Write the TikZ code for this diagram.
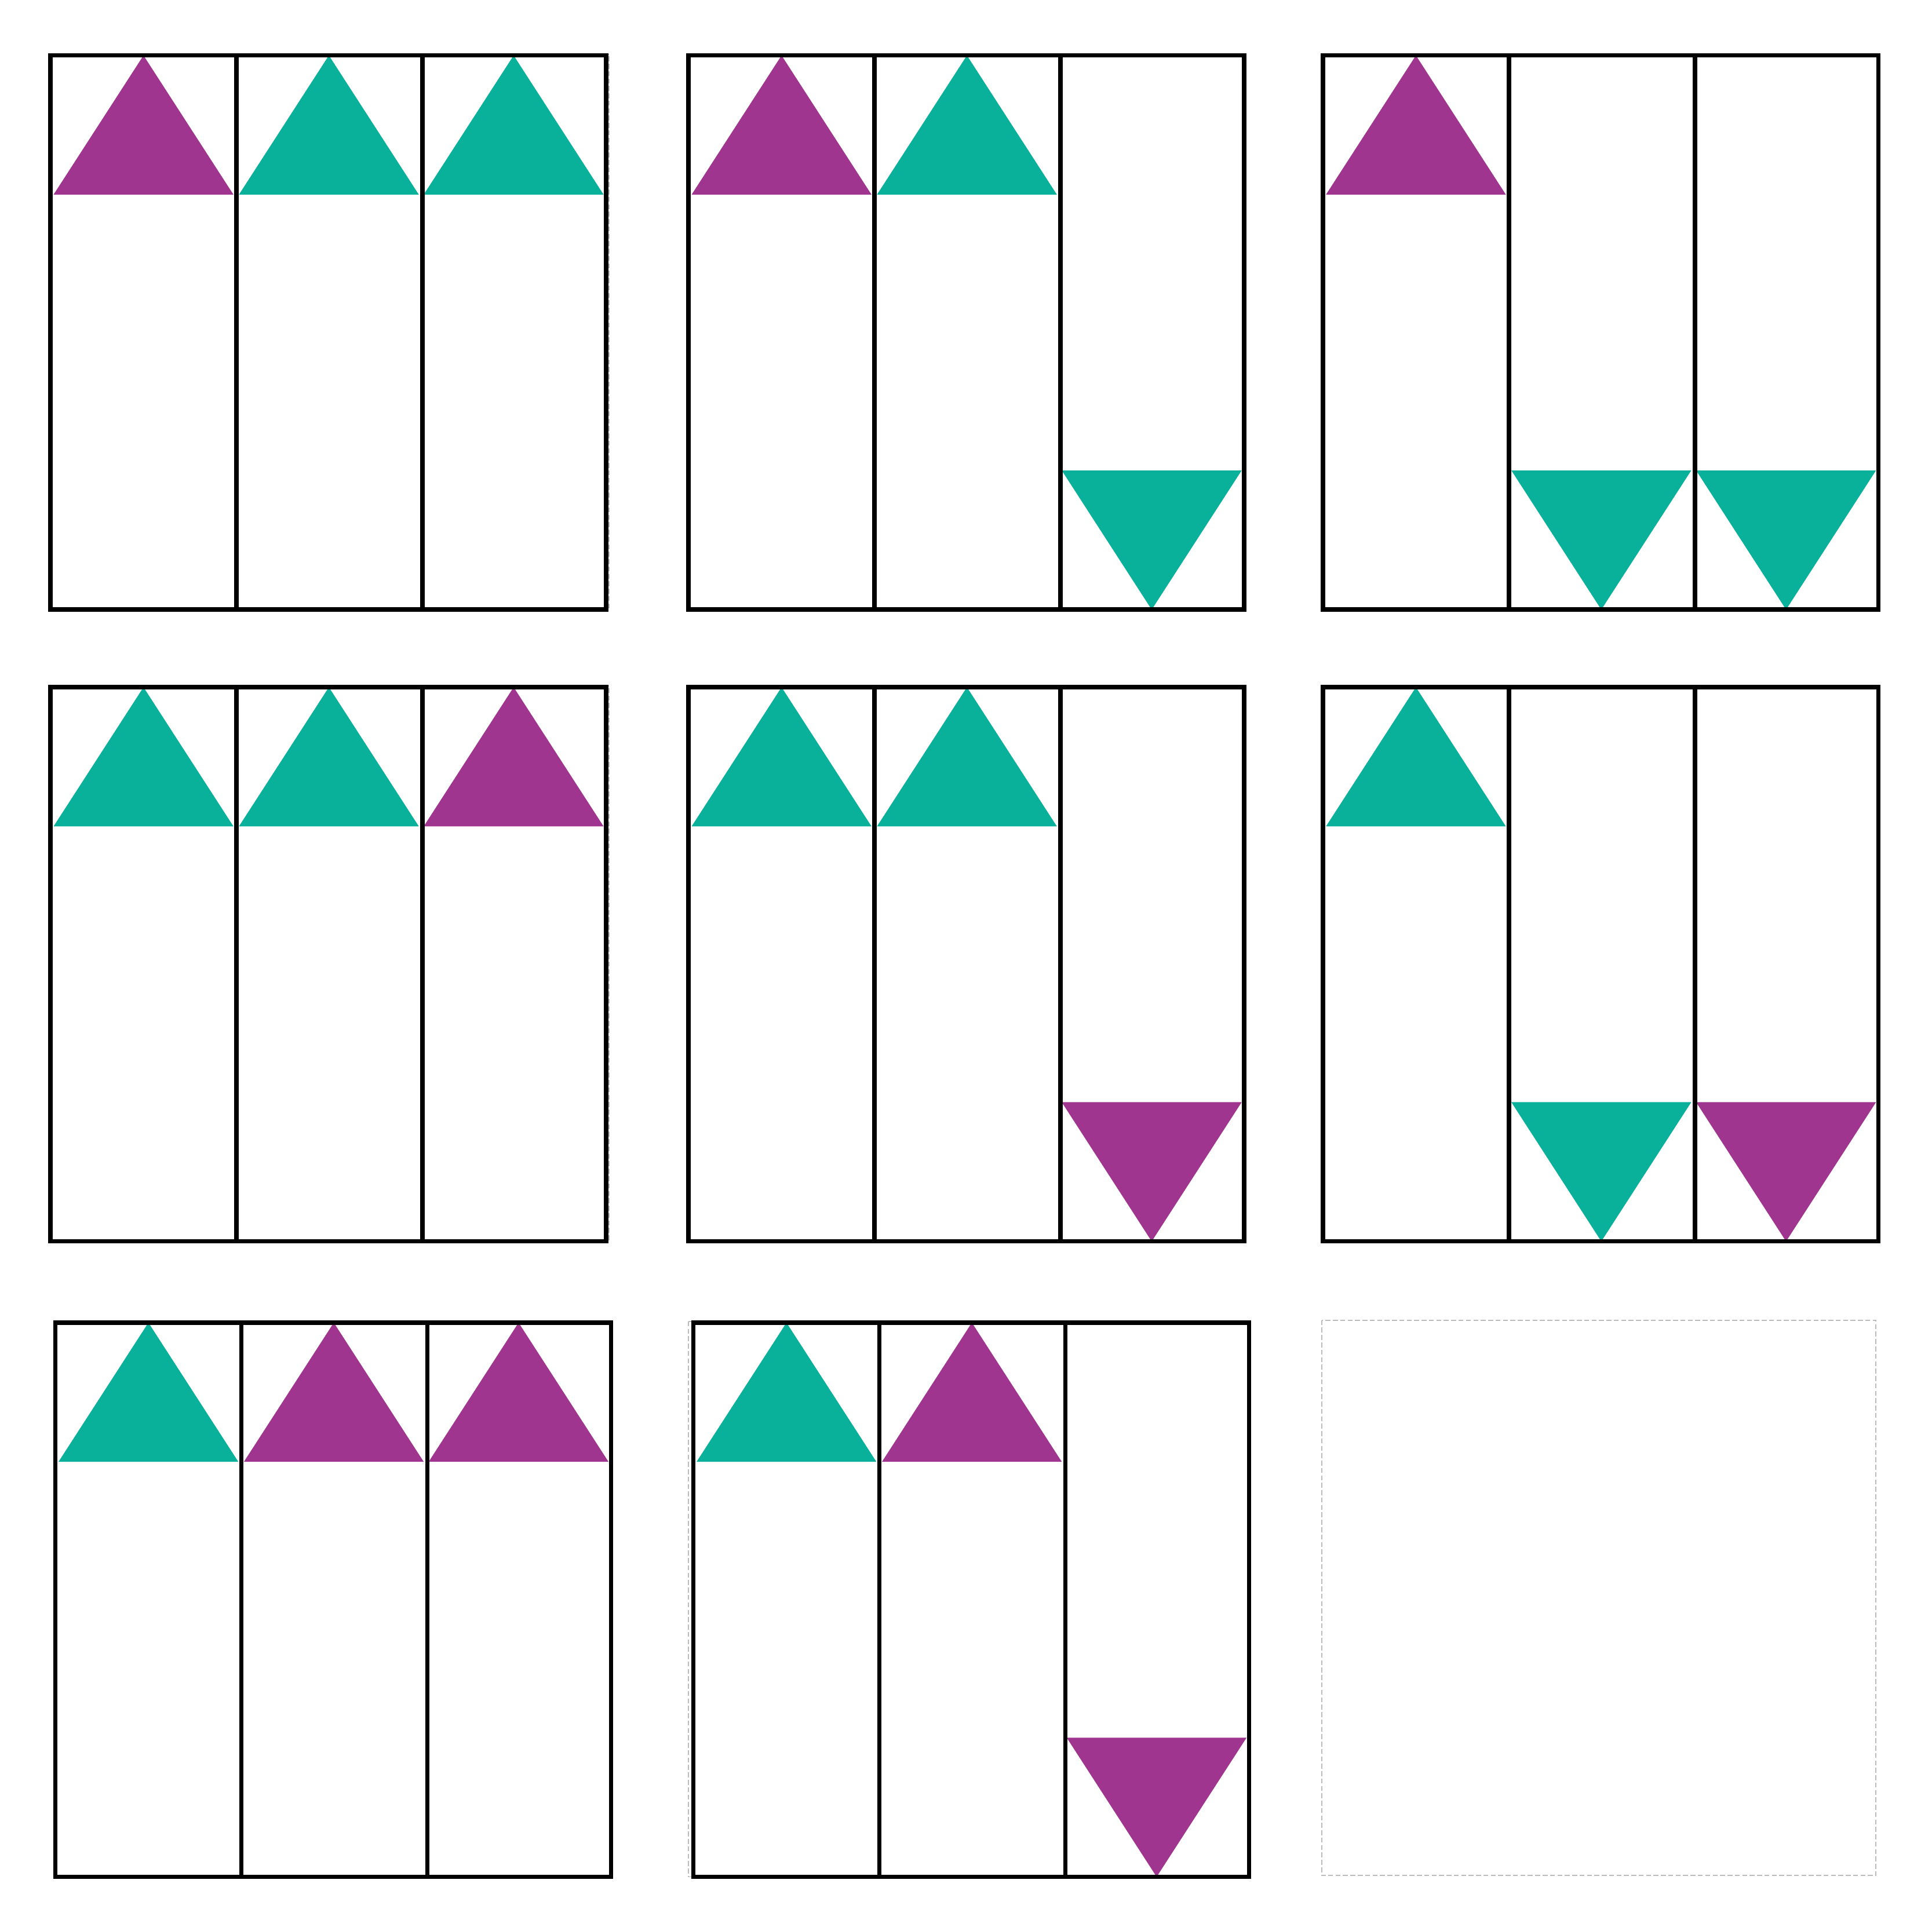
\documentclass[tikz,border=0pt]{standalone}
\usepackage{tikz}
\usepackage{xcolor}
\definecolor{tripurple}{HTML}{A03590}
\definecolor{trigreen}{HTML}{09B09A}
\definecolor{framegray}{HTML}{BBBBBB}

\begin{document}
\begin{tikzpicture}[x=0.01cm,y=-0.01cm,
  panel/.style={line width=1pt,black},
  axframe/.style={framegray,line width=0.25pt,dash pattern=on 0.04cm off 0.02cm},
  tri up/.pic={\fill[pic actions] (-73,113) -- (73,113) -- (0,0) -- cycle;},
  tri down/.pic={\fill[pic actions] (-73,337) -- (73,337) -- (0,450) -- cycle;}]
  \useasboundingbox (0,0) rectangle (1568,1568);
  % faint axes frames
  \draw[axframe] (40,44) rectangle (494.5,495);
  \draw[axframe] (40,557) rectangle (494.5,1008);
  \draw[axframe] (559,1073) rectangle (1013,1524);
  \draw[axframe] (1073,1072) rectangle (1523,1523);
  % panels: corner, then colour/direction of the three columns
  \foreach \px/\py/\ca/\da/\cb/\db/\cc/\dc in {
      41/45/tripurple/up/trigreen/up/trigreen/up,
      559/45/tripurple/up/trigreen/up/trigreen/down,
      1074/45/tripurple/up/trigreen/down/trigreen/down,
      41/558/trigreen/up/trigreen/up/tripurple/up,
      559/558/trigreen/up/trigreen/up/tripurple/down,
      1074/558/trigreen/up/trigreen/down/tripurple/down,
      45/1074/trigreen/up/tripurple/up/tripurple/up,
      563/1074/trigreen/up/tripurple/up/tripurple/down}
  {
    \pic[fill=\ca] at (\px+75.5,\py) {tri \da};
    \pic[fill=\cb] at (\px+226,\py) {tri \db};
    \pic[fill=\cc] at (\px+376,\py) {tri \dc};
    \draw[panel] (\px,\py) rectangle ++(451,450);
    \draw[panel] (\px+151,\py) -- ++(0,450);
    \draw[panel] (\px+302,\py) -- ++(0,450);
  }
\end{tikzpicture}
\end{document}
